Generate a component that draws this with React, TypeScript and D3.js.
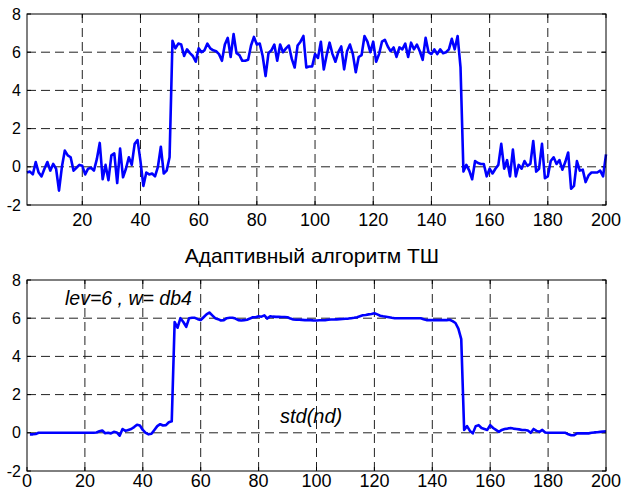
import * as d3 from 'd3'

// noisy input signal, samples 1..200
const noisySignal = [
  -0.3, -0.25, -0.4, 0.25, -0.3, -0.5, -0.1, 0.25, -0.2, 0.15,
  -0.1, -1.25, 0.0, 0.85, 0.6, 0.5, -0.2, -0.05, 0.1, 0.05,
  -0.4, -0.1, -0.05, -0.2, 0.4, 1.25, -0.65, 0.1, -0.7, 0.6,
  0.7, -0.85, 0.95, -0.55, -0.1, 0.5, 0.1, 1.2, 1.4, 0.3,
  -1.0, -0.3, -0.4, -0.35, -0.5, 0.0, 1.05, -0.35, -0.2, 0.5,
  6.6, 6.2, 6.45, 6.4, 5.8, 6.15, 5.95, 5.8, 5.5, 6.2,
  6.0, 6.1, 6.45, 6.2, 6.1, 6.05, 5.9, 5.55, 6.4, 6.75,
  5.75, 6.95, 5.95, 5.85, 5.55, 5.55, 5.6, 6.35, 6.8, 6.4,
  6.45, 5.8, 4.75, 5.95, 6.1, 6.4, 5.55, 6.4, 6.0, 6.2,
  6.35, 5.65, 5.2, 6.35, 6.55, 6.85, 5.2, 5.25, 5.25, 5.9,
  5.7, 6.55, 5.1, 5.85, 6.5, 5.9, 5.5, 6.0, 6.3, 5.1,
  6.05, 6.4, 5.9, 4.95, 5.75, 5.85, 6.85, 6.55, 6.0, 6.55,
  5.5, 5.9, 6.55, 6.65, 6.3, 6.05, 6.25, 5.75, 6.25, 6.15,
  6.45, 5.75, 6.5, 6.15, 6.4, 6.05, 5.6, 6.75, 6.0, 5.9,
  6.15, 5.9, 6.15, 5.95, 6.0, 6.15, 6.7, 6.15, 6.85, 5.2,
  -0.25, 0.1, -0.2, -0.65, 0.3, 0.2, 0.15, 0.15, -0.5, -0.1,
  -0.35, -0.1, 0.1, 1.2, -0.1, 0.35, -0.5, 0.9, -0.5, 0.1,
  -0.1, 0.3, 0.05, 0.15, 1.35, -0.25, -0.1, 1.2, -0.6, -0.5,
  0.3, 0.5, 0.15, 0.35, -0.15, 0.25, 0.75, -1.15, -1.0, 0.3,
  -0.2, -0.15, -0.8, -0.45, -0.3, -0.3, -0.3, -0.2, -0.5, 0.65,
]

// denoised result (lev=6, db4)
const denoised = [
  -0.08, -0.08, -0.06, 0, 0, 0, 0, 0, 0, 0,
  0, 0, 0, 0, 0, 0, 0, 0, 0, 0,
  0, 0, 0, 0.02, 0.08, 0.12, -0.02, 0.0, -0.03, 0.05,
  0.02, -0.15, 0.2, 0.1, 0.15, 0.2, 0.3, 0.42, 0.38, 0.15,
  0.0, -0.08, -0.05, 0.15, 0.35, 0.45, 0.38, 0.4, 0.55, 0.6,
  5.8, 5.5, 6.0, 5.8, 5.55, 6.0, 6.02, 6.02, 5.95, 5.9,
  6.05, 6.2, 6.3, 6.15, 6.0, 5.95, 5.88, 5.9, 6.0, 6.02,
  6.02, 5.98, 5.9, 5.88, 5.9, 5.92, 5.98, 6.05, 6.05, 6.1,
  6.08, 6.15, 5.98, 6.1, 6.08, 6.07, 6.07, 6.06, 6.06, 6.05,
  5.98, 5.93, 5.92, 5.92, 5.91, 5.9, 5.9, 5.9, 5.88, 5.88,
  5.89, 5.89, 5.9, 5.92, 5.93, 5.93, 5.94, 5.95, 5.96, 5.97,
  5.98, 6.0, 6.02, 6.05, 6.1, 6.15, 6.17, 6.2, 6.22, 6.26,
  6.2, 6.13, 6.1, 6.08, 6.05, 6.02, 6.0, 6.0, 6.0, 6.0,
  6.0, 6.0, 6.0, 6.0, 6.0, 6.0, 5.95, 5.9, 5.9, 5.9,
  5.9, 5.9, 5.9, 5.9, 5.9, 5.92, 5.85, 5.75, 5.45, 4.9,
  0.15, 0.35, 0.1, -0.03, 0.35, 0.4, 0.25, 0.2, 0.15, 0.4,
  0.25, 0.15, 0.05, 0.15, 0.2, 0.22, 0.25, 0.22, 0.2, 0.18,
  0.15, 0.15, 0.12, 0.0, 0.2, 0.1, 0.05, 0.15, 0.02, 0.0,
  0, 0, 0, 0, 0, 0, -0.08, -0.13, -0.12, -0.03,
  -0.03, -0.03, -0.03, -0.03, 0.0, 0.02, 0.03, 0.05, 0.07, 0.08,
]

const yTicks = [-2, 0, 2, 4, 6, 8]
const xTicksTop = [20, 40, 60, 80, 100, 120, 140, 160, 180, 200]
const xTicksBottom = [0, 20, 40, 60, 80, 100, 120, 140, 160, 180, 200]
const title = 'Адаптивный алгоритм ТШ'
const noteParams = 'lev=6 , w= db4'
const noteStd = 'std(nd)'

const FONT = '"Liberation Sans", Arial, sans-serif'
const LEFT = 27
const RIGHT = 606

function Panel({ values, xDomain, xTicks, top, bottom, labelGap }) {
  const x = d3.scaleLinear().domain(xDomain).range([LEFT, RIGHT])
  const y = d3.scaleLinear().domain([-2, 8]).range([bottom, top])
  const line = d3.line<number>()
    .x((_, i) => x(i + 1))
    .y(d => y(d))

  return (
    <g>
      {/* grid */}
      {xTicks.filter(t => t > xDomain[0] && t < xDomain[1]).map(t => (
        <line key={'gx' + t} x1={x(t)} x2={x(t)} y1={top} y2={bottom}
          stroke="#222" strokeDasharray="9,5" strokeWidth={1} />
      ))}
      {yTicks.filter(t => t > -2 && t < 8).map(t => (
        <line key={'gy' + t} x1={LEFT} x2={RIGHT} y1={y(t)} y2={y(t)}
          stroke="#222" strokeDasharray="9,5" strokeWidth={1} />
      ))}
      {/* ticks, inside on all sides */}
      {xTicks.map(t => (
        <g key={'tx' + t}>
          <line x1={x(t)} x2={x(t)} y1={bottom} y2={bottom - 4} stroke="#000" />
          <line x1={x(t)} x2={x(t)} y1={top} y2={top + 4} stroke="#000" />
          <text x={x(t)} y={bottom + labelGap} textAnchor="middle" fontSize={18} fontFamily={FONT}>{t}</text>
        </g>
      ))}
      {yTicks.map(t => (
        <g key={'ty' + t}>
          <line x1={LEFT} x2={LEFT + 4} y1={y(t)} y2={y(t)} stroke="#000" />
          <line x1={RIGHT} x2={RIGHT - 4} y1={y(t)} y2={y(t)} stroke="#000" />
          <text x={21} y={y(t)} dy="0.35em" textAnchor="end" fontSize={16} fontFamily={FONT}>{t}</text>
        </g>
      ))}
      <path d={line(values) || ''} fill="none" stroke="#0000ff" strokeWidth={2.6} strokeLinejoin="round" />
      <rect x={LEFT} y={top} width={RIGHT - LEFT} height={bottom - top} fill="none" stroke="#000" strokeWidth={1} />
    </g>
  )
}

export default function App() {
  return (
    <svg width={621} height={494} style={{ position: 'absolute', left: 0, top: 0, background: '#fff' }}>
      <rect width={621} height={494} fill="#fff" />
      <Panel values={noisySignal} xDomain={[1, 200]} xTicks={xTicksTop} top={14} bottom={205} labelGap={21} />
      <text x={312} y={263} textAnchor="middle" fontSize={21} fontFamily={FONT}>{title}</text>
      <Panel values={denoised} xDomain={[0, 200]} xTicks={xTicksBottom} top={280} bottom={471} labelGap={16} />
      <text x={65} y={305} fontSize={19.5} fontStyle="italic" fontFamily={FONT}>{noteParams}</text>
      <text x={280} y={423} fontSize={20} fontStyle="italic" fontFamily={FONT}>{noteStd}</text>
    </svg>
  )
}
